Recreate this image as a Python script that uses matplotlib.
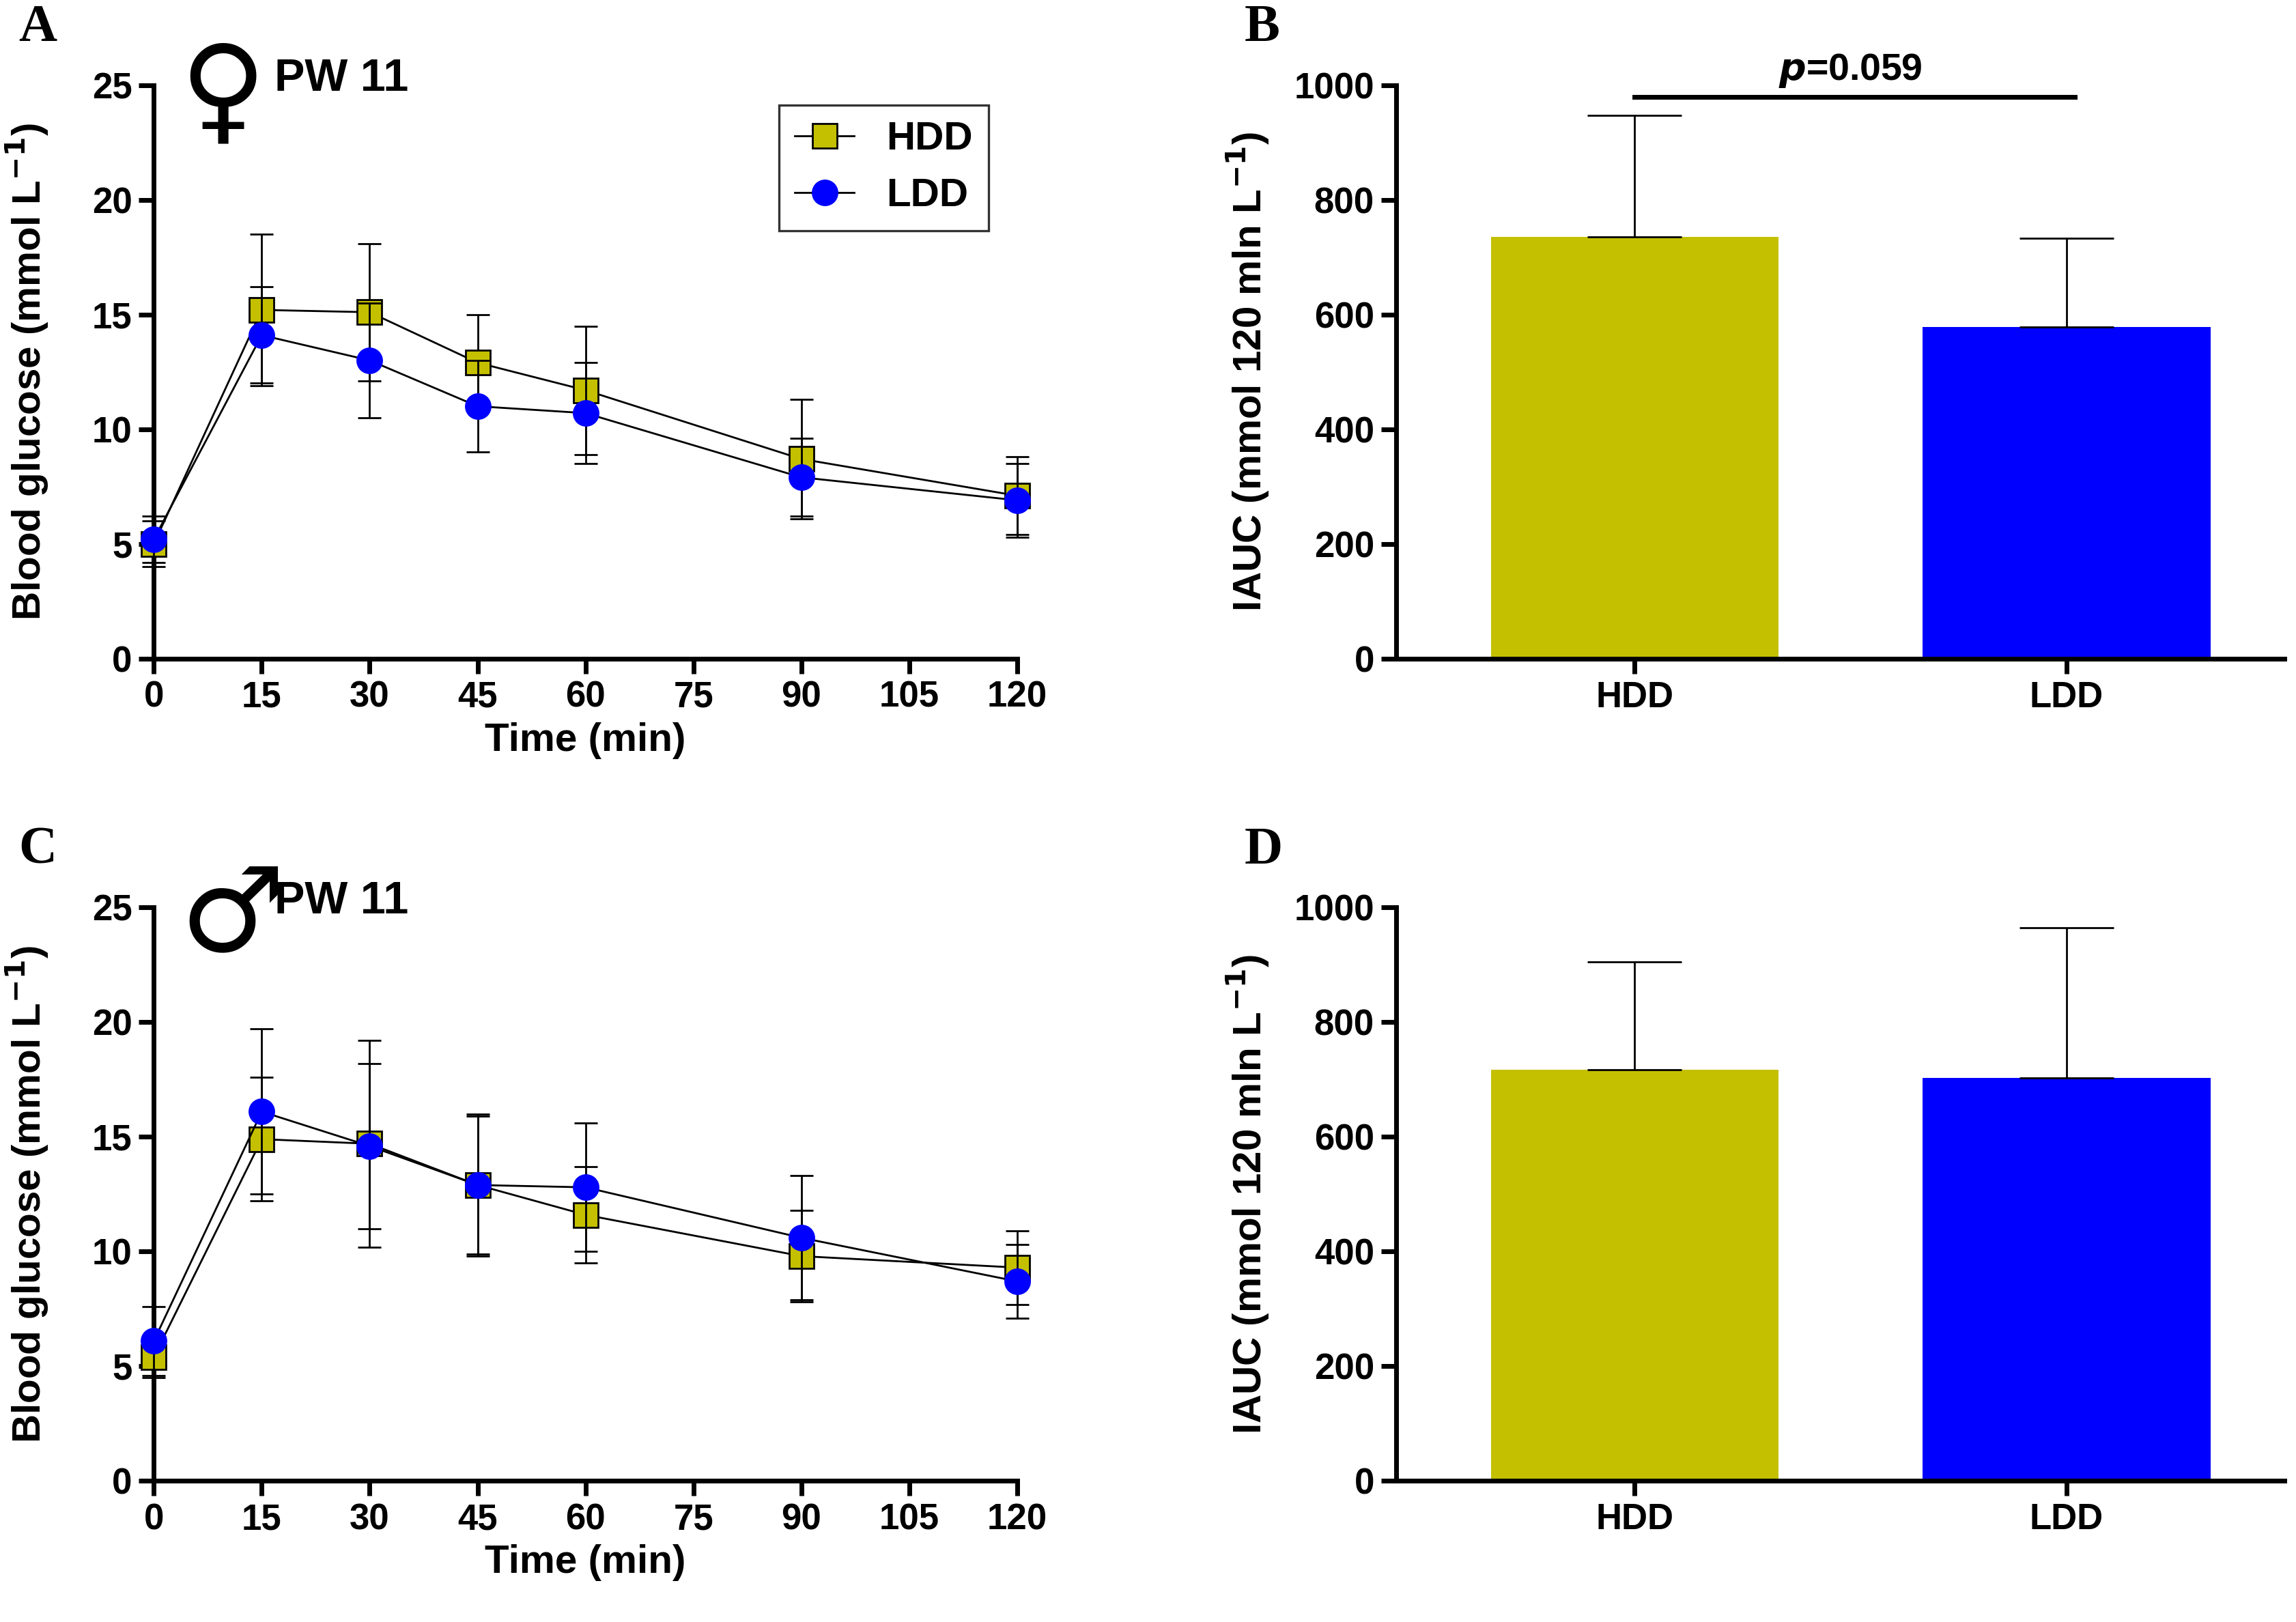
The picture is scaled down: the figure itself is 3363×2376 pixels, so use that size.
import numpy as np
import matplotlib.pyplot as plt

plt.rcParams['font.family'] = ['Liberation Sans', 'DejaVu Sans']
plt.rcParams['font.weight'] = 'bold'

# OGTT data
times = [0, 15, 30, 45, 60, 90, 120]
hdd_f = [5.0, 15.2, 15.1, 12.9, 11.7, 8.7, 7.1]
hdd_f_err = [1.0, 3.3, 3.0, 2.1, 2.8, 2.6, 1.7]
ldd_f = [5.2, 14.1, 13.0, 11.0, 10.7, 7.9, 6.9]
ldd_f_err = [1.0, 2.1, 2.5, 2.0, 2.2, 1.7, 1.6]
hdd_m = [5.4, 14.9, 14.7, 12.9, 11.6, 9.8, 9.3]
hdd_m_err = [0.9, 2.7, 4.5, 3.1, 2.1, 2.0, 1.6]
ldd_m = [6.1, 16.1, 14.6, 12.9, 12.8, 10.6, 8.7]
ldd_m_err = [1.5, 3.6, 3.6, 3.0, 2.8, 2.7, 1.6]

# IAUC data
groups = ['HDD', 'LDD']
iauc_f = [735, 578]
iauc_f_err = [212, 155]
iauc_m = [717, 703]
iauc_m_err = [188, 262]

olive = '#C4C000'
blue = '#0000FF'

fig = plt.figure(figsize=(16.815, 11.88), dpi=200)

def style(ax):
    for s in ['top', 'right']:
        ax.spines[s].set_visible(False)
    for s in ['left', 'bottom']:
        ax.spines[s].set_linewidth(2.5)
    ax.tick_params(width=2.5, length=8, labelsize=19, direction='out')
    for lab in ax.get_xticklabels() + ax.get_yticklabels():
        lab.set_fontweight('bold')

def line_panel(rect, hdd, hdd_e, ldd, ldd_e, letter, symbol, legend):
    ax = fig.add_axes(rect)
    ax.errorbar(times, hdd, yerr=hdd_e, color='black', lw=1, capsize=6, capthick=1,
                marker='s', ms=13, mfc=olive, mec='black', mew=1, label='HDD', clip_on=False, zorder=3)
    ax.errorbar(times, ldd, yerr=ldd_e, color='black', lw=1, capsize=6, capthick=1,
                marker='o', ms=13, mfc=blue, mec=blue, label='LDD', clip_on=False, zorder=4)
    ax.set_xlim(0, 120)
    ax.set_ylim(0, 25)
    ax.set_xticks(range(0, 121, 15))
    ax.set_yticks(range(0, 26, 5))
    ax.set_xlabel('Time (min)', fontsize=21, fontweight='bold')
    ax.set_ylabel('Blood glucose (mmol L$^{\\mathbf{-1}}$)', fontsize=21, fontweight='bold',
                  labelpad=22)
    style(ax)
    fig.text(0.008, rect[1] + rect[3] + 0.035, letter, fontsize=28, fontweight='bold',
             family='Liberation Serif', va='center')
    ax.text(0.03, 0.98, symbol, transform=ax.transAxes, fontsize=62, family='DejaVu Sans',
            va='center', fontweight='normal')
    ax.text(0.14, 1.01, 'PW 11', transform=ax.transAxes, fontsize=24, fontweight='bold', va='center')
    if legend:
        h, l = ax.get_legend_handles_labels()
        h = [x[0] for x in h]
        leg = ax.legend(h, l, loc='upper right', bbox_to_anchor=(0.99, 1.0), fontsize=21,
                        fancybox=False, edgecolor='black', handlelength=1.5)
        leg.get_frame().set_linewidth(1.2)
    return ax

def bar_panel(rect, vals, errs, letter, pval):
    ax = fig.add_axes(rect)
    x = np.arange(len(groups))
    ax.bar(x, vals, width=0.667, color=[olive, blue])
    ax.errorbar(x, vals, yerr=[[0, 0], errs], fmt='none', ecolor='black', lw=1, capsize=25, capthick=1)
    ax.set_xlim(-0.553, 1.505)
    ax.set_ylim(0, 1000)
    ax.set_xticks(x)
    ax.set_xticklabels(groups)
    ax.set_yticks(range(0, 1001, 200))
    ax.set_ylabel('IAUC (mmol 120 mln L$^{\\mathbf{-1}}$)', fontsize=21, fontweight='bold',
                  labelpad=12)
    style(ax)
    fig.text(0.542, rect[1] + rect[3] + 0.035, letter, fontsize=28, fontweight='bold',
             family='Liberation Serif', va='center')
    if pval:
        ax.plot([0, 1.02], [980, 980], color='black', lw=2.5, clip_on=False)
        ax.text(0.5, 992, '$\\mathit{p}$=0.059', ha='center', va='bottom', fontsize=20,
                fontweight='bold', clip_on=False)
    return ax

line_panel([0.067, 0.594, 0.376, 0.3535], hdd_f, hdd_f_err, ldd_f, ldd_f_err, 'A', '\u2640', True)
bar_panel([0.608, 0.594, 0.387, 0.3535], iauc_f, iauc_f_err, 'B', True)
line_panel([0.067, 0.087, 0.376, 0.3535], hdd_m, hdd_m_err, ldd_m, ldd_m_err, 'C', '\u2642', False)
bar_panel([0.608, 0.087, 0.387, 0.3535], iauc_m, iauc_m_err, 'D', False)

fig.savefig('out.png', dpi=200)
